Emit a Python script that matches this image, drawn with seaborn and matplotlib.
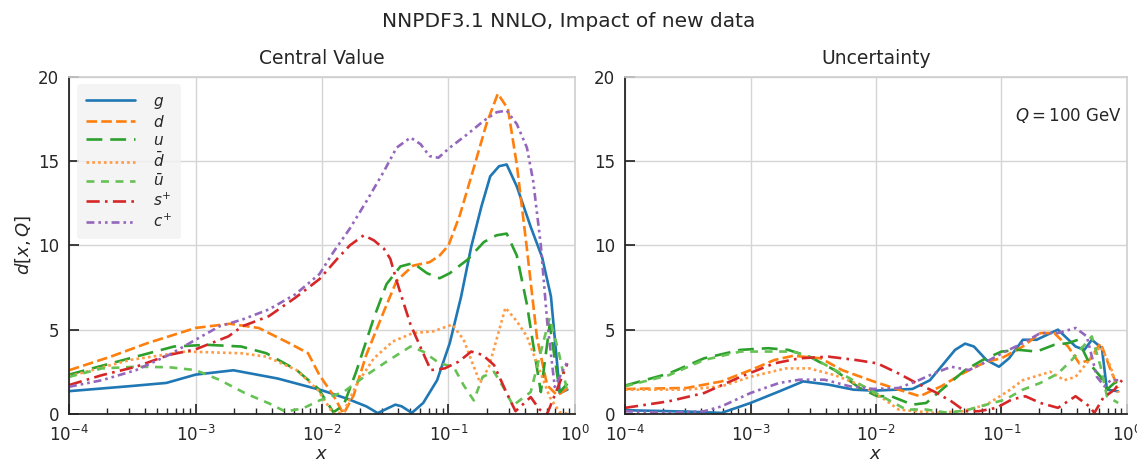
import numpy as np
import matplotlib
matplotlib.use("Agg")
import matplotlib.pyplot as plt
import seaborn as sns

# log10(x) positions and values, left panel (central value)
cv_g_lx = [-4, -3.5, -3.23, -3.0, -2.7, -2.35, -2.0, -1.8, -1.65, -1.56, -1.42, -1.37, -1.29, -1.2, -1.09, -0.99, -0.9,
           -0.82, -0.74, -0.67, -0.6, -0.54, -0.46, -0.35, -0.26, -0.19, -0.12, -0.06]
cv_g_y = [1.35, 1.66, 1.84, 2.33, 2.59, 2.1, 1.4, 0.9, 0.45, 0.05, 0.55, 0.45, 0.06, 0.65, 2.0, 4.2, 6.97,
          9.93, 12.3, 14.1, 14.7, 14.8, 13.5, 11.1, 9.3, 6.97, 1.24, 1.44]

cv_d_lx = [-4, -3.67, -3.38, -3.0, -2.73, -2.5, -2.26, -2.11, -2.02, -1.91, -1.83, -1.75, -1.65, -1.51, -1.41, -1.28,
           -1.15, -1.07, -1.0, -0.91, -0.8, -0.7, -0.61, -0.53, -0.46, -0.38, -0.3, -0.22, -0.14, -0.06]
cv_d_y = [2.59, 3.4, 4.2, 5.1, 5.35, 5.1, 4.2, 3.6, 2.3, 1.1, 0.0, 1.1, 3.5, 6.1, 7.9, 8.8,
          9.0, 9.4, 10.0, 11.8, 14.6, 17.2, 19.0, 18.1, 14.8, 9.8, 4.5, 1.7, 1.1, 1.5]

cv_u_lx = [-4, -3.52, -3.17, -2.91, -2.64, -2.44, -2.2, -2.03, -1.91, -1.83, -1.73, -1.59, -1.49, -1.38, -1.28,
           -1.17, -1.07, -0.99, -0.85, -0.72, -0.62, -0.54, -0.46, -0.38, -0.33, -0.27, -0.2, -0.12, -0.06]
cv_u_y = [2.33, 3.3, 4.0, 4.1, 4.0, 3.6, 2.6, 1.5, 0.1, 0.5, 2.5, 5.7, 7.7, 8.75, 8.95,
          8.35, 8.05, 8.35, 9.15, 10.2, 10.6, 10.7, 9.4, 6.5, 4.1, 1.3, 5.3, 1.3, 1.8]

cv_dbar_lx = [-4, -3.52, -3.08, -2.64, -2.44, -2.2, -2.03, -1.91, -1.83, -1.73, -1.59, -1.44, -1.28, -1.12, -0.97,
              -0.88, -0.82, -0.75, -0.68, -0.55, -0.46, -0.38, -0.3, -0.2, -0.12, -0.05]
cv_dbar_y = [2.23, 3.2, 3.7, 3.6, 3.4, 2.6, 1.4, 0.0, 0.1, 1.7, 3.3, 4.3, 4.8, 4.9, 5.3,
             4.4, 3.2, 1.84, 2.8, 6.3, 5.5, 4.6, 3.0, 1.0, 0.1, 0.0]

cv_ubar_lx = [-4, -3.74, -3.47, -3.21, -3.0, -2.81, -2.6, -2.42, -2.29, -2.15, -2.02, -1.83, -1.65, -1.49, -1.3,
              -1.2, -1.07, -0.96, -0.88, -0.8, -0.73, -0.64, -0.56, -0.49, -0.35, -0.27, -0.2, -0.13, -0.06]
cv_ubar_y = [2.2, 2.7, 2.8, 2.77, 2.6, 2.02, 1.2, 0.63, 0.14, 0.33, 0.8, 1.3, 2.3, 3.1, 4.0,
             3.7, 3.0, 2.8, 1.7, 0.8, 2.2, 2.5, 1.5, 0.5, 1.3, 3.7, 5.7, 3.7, 1.3]

cv_sp_lx = [-4, -3.74, -3.47, -3.21, -3.0, -2.74, -2.63, -2.42, -2.21, -2.02, -1.88, -1.78, -1.67, -1.59, -1.51,
            -1.46, -1.41, -1.36, -1.3, -1.2, -1.14, -1.03, -0.92, -0.82, -0.73, -0.64, -0.54, -0.47, -0.35, -0.28,
            -0.22, -0.15, -0.06]
cv_sp_y = [1.71, 2.3, 2.8, 3.5, 3.83, 4.6, 5.2, 5.8, 6.9, 8.0, 9.2, 10.0, 10.6, 10.3, 9.8,
           9.2, 7.9, 6.7, 5.3, 3.6, 2.6, 2.7, 3.1, 3.7, 3.5, 2.9, 1.24, 0.16, 1.0, 0.26,
           0.0, 1.3, 3.0]

cv_cp_lx = [-4, -3.74, -3.47, -3.21, -3.0, -2.81, -2.63, -2.42, -2.21, -2.02, -1.91, -1.78, -1.65, -1.51, -1.41,
            -1.3, -1.22, -1.15, -1.08, -0.99, -0.85, -0.72, -0.62, -0.54, -0.46, -0.38, -0.33, -0.27, -0.22,
            -0.16, -0.06]
cv_cp_y = [1.61, 2.0, 2.6, 3.5, 4.4, 5.2, 5.6, 6.2, 7.1, 8.3, 9.6, 11.0, 12.6, 14.4, 15.8,
           16.4, 16.0, 15.3, 15.2, 15.8, 16.6, 17.4, 17.9, 18.0, 17.2, 15.8, 13.8, 10.0, 5.5,
           1.6, 3.1]

# right panel (uncertainty)
un_g_lx = [-4, -3.51, -3.23, -3.0, -2.77, -2.58, -2.38, -2.18, -2.02, -1.71, -1.57, -1.37, -1.29, -1.22, -1.12,
           -1.02, -0.94, -0.83, -0.72, -0.55, -0.41, -0.34, -0.28, -0.2, -0.16, -0.07]
un_g_y = [0.22, 0.14, 0.06, 0.65, 1.34, 1.93, 1.74, 1.44, 1.38, 1.48, 2.0, 3.8, 4.17, 4.0, 3.2,
          2.8, 3.3, 4.4, 4.4, 5.0, 4.0, 3.8, 4.4, 3.9, 1.44, 1.34]

un_d_lx = [-4, -3.51, -3.23, -3.0, -2.81, -2.66, -2.44, -2.27, -2.02, -1.82, -1.65, -1.48, -1.31, -1.12, -1.0,
           -0.83, -0.69, -0.58, -0.47, -0.38, -0.3, -0.21, -0.13, -0.07]
un_d_y = [1.48, 1.54, 1.93, 2.6, 3.2, 3.45, 3.3, 2.6, 1.93, 1.44, 1.05, 1.64, 2.4, 3.1, 3.3,
          4.0, 4.8, 4.8, 4.0, 3.0, 3.2, 4.2, 2.6, 1.54]

un_u_lx = [-4, -3.65, -3.37, -3.08, -2.86, -2.7, -2.53, -2.33, -2.13, -1.99, -1.88, -1.71, -1.6, -1.46, -1.29,
           -1.15, -1.0, -0.86, -0.72, -0.58, -0.47, -0.39, -0.3, -0.21, -0.16, -0.1, -0.05]
un_u_y = [1.68, 2.4, 3.3, 3.8, 3.9, 3.8, 3.4, 2.6, 1.54, 1.05, 1.05, 0.55, 0.65, 1.54, 2.6,
          3.2, 3.7, 3.8, 3.7, 4.1, 4.2, 4.4, 3.0, 2.2, 1.44, 1.84, 2.0]

un_dbar_lx = [-4, -3.51, -3.23, -3.0, -2.72, -2.53, -2.33, -2.1, -1.93, -1.82, -1.54, -1.31, -1.12, -0.95, -0.83,
              -0.61, -0.5, -0.41, -0.3, -0.21, -0.13, -0.07]
un_dbar_y = [1.44, 1.44, 1.64, 2.2, 2.7, 2.7, 2.3, 1.64, 0.85, 0.26, 0.06, 0.16, 0.55, 1.34, 2.0,
             2.5, 2.0, 2.2, 3.2, 4.0, 2.8, 1.24]

un_ubar_lx = [-4, -3.65, -3.37, -3.08, -2.86, -2.66, -2.5, -2.3, -2.1, -1.93, -1.76, -1.6, -1.42, -1.26, -1.12,
              -0.97, -0.83, -0.69, -0.55, -0.44, -0.35, -0.28, -0.21, -0.16, -0.07]
un_ubar_y = [1.64, 2.3, 3.2, 3.7, 3.7, 3.7, 3.3, 2.5, 1.64, 0.95, 0.26, 0.26, 0.06, 0.26, 0.55,
             0.85, 1.44, 1.84, 2.4, 3.2, 4.0, 4.6, 2.8, 1.05, 0.65]

un_sp_lx = [-4, -3.65, -3.37, -3.08, -2.81, -2.61, -2.38, -2.16, -1.99, -1.82, -1.68, -1.54, -1.4, -1.29, -1.18,
            -1.04, -0.92, -0.81, -0.69, -0.55, -0.41, -0.3, -0.26, -0.19, -0.1, -0.04]
un_sp_y = [0.36, 0.75, 1.24, 2.2, 3.0, 3.3, 3.4, 3.2, 3.0, 2.4, 1.84, 1.34, 0.75, 0.16, 0.16,
           0.36, 0.85, 1.05, 0.65, 0.36, 1.05, 0.45, 0.06, 0.95, 1.44, 2.0]

un_cp_lx = [-4, -3.65, -3.37, -3.23, -3.0, -2.77, -2.61, -2.41, -2.21, -2.02, -1.82, -1.68, -1.54, -1.4, -1.26,
            -1.12, -0.97, -0.83, -0.69, -0.55, -0.41, -0.32, -0.24, -0.18, -0.13, -0.07]
un_cp_y = [0.16, 0.06, 0.16, 0.45, 1.24, 1.84, 2.03, 2.03, 1.64, 1.48, 1.54, 1.93, 2.4, 2.8, 2.6,
           3.1, 3.7, 4.2, 4.8, 4.8, 5.1, 4.6, 2.2, 1.64, 2.0, 2.0]

labels = ["$g$", "$d$", "$u$", r"$\bar{d}$", r"$\bar{u}$", "$s^{+}$", "$c^{+}$"]
colors = ["#1f77b4", "#ff7f0e", "#2ca02c", "#ff9b45", "#66c254", "#d62728", "#9467bd"]
styles = ["-", (0, (4, 1.6)), (0, (6, 3)), (0, (1, 1.2)), (0, (3, 2.5)),
          (0, (5, 2, 1, 2)), (0, (3, 1.5, 1, 1.5, 1, 1.5))]

cv_series = [(cv_g_lx, cv_g_y), (cv_d_lx, cv_d_y), (cv_u_lx, cv_u_y), (cv_dbar_lx, cv_dbar_y),
             (cv_ubar_lx, cv_ubar_y), (cv_sp_lx, cv_sp_y), (cv_cp_lx, cv_cp_y)]
un_series = [(un_g_lx, un_g_y), (un_d_lx, un_d_y), (un_u_lx, un_u_y), (un_dbar_lx, un_dbar_y),
             (un_ubar_lx, un_ubar_y), (un_sp_lx, un_sp_y), (un_cp_lx, un_cp_y)]

sns.set_theme(style="whitegrid", rc={
    "axes.edgecolor": "#d0d0d0",
    "grid.color": "#d5d5d5",
    "xtick.bottom": True, "ytick.left": True,
    "xtick.direction": "in", "ytick.direction": "in",
    "xtick.major.size": 7, "ytick.major.size": 7,
    "xtick.minor.size": 4, "xtick.minor.visible": True,
    "xtick.color": "#262626", "ytick.color": "#262626",
})
plt.rcParams["font.family"] = ["DejaVu Sans"]
plt.rcParams["mathtext.fontset"] = "dejavusans"

fig = plt.figure(figsize=(11.37, 4.63), dpi=100)
ax1 = fig.add_axes([0.0607, 0.106, 0.445, 0.728])
ax2 = fig.add_axes([0.5497, 0.106, 0.4415, 0.728])

for ax, series, title in [(ax1, cv_series, "Central Value"), (ax2, un_series, "Uncertainty")]:
    for (lx, yv), lab, col, ls in zip(series, labels, colors, styles):
        sns.lineplot(x=10 ** np.array(lx), y=yv, ax=ax, color=col, linestyle=ls, lw=1.9,
                     label=lab, sort=False, estimator=None, errorbar=None)
    ax.set_xscale("log")
    ax.set_xlim(1e-4, 1)
    ax.set_ylim(0, 20)
    ax.set_yticks([0, 5, 10, 15, 20])
    ax.grid(True, which="major")
    ax.grid(False, which="minor")
    ax.tick_params(axis="y", which="major", labelsize=12, pad=7)
    ax.tick_params(axis="x", which="major", labelsize=12, pad=8)
    ax.tick_params(axis="x", which="minor", color="#262626")
    for side in ["left", "bottom"]:
        ax.spines[side].set_color("#262626")
        ax.spines[side].set_linewidth(1.3)
    ax.set_title(title, fontsize=13.5, pad=9)
    ax.set_xlabel("$x$", fontsize=13, labelpad=0)

ax1.set_ylabel("$d[x,Q]$", fontsize=13)
ax2.set_ylabel("")
ax2.get_legend().remove()
leg = ax1.legend(loc="upper left", frameon=True, fontsize=11, handlelength=3.2, handletextpad=1.2,
                 labelspacing=0.2, borderaxespad=0.5, borderpad=0.6)
leg.get_frame().set_facecolor("#f2f2f2")
leg.get_frame().set_edgecolor("none")

ax2.text(0.99, 0.885, "$Q = 100$ GeV", transform=ax2.transAxes, ha="right", va="center", fontsize=12)
fig.suptitle("NNPDF3.1 NNLO, Impact of new data", fontsize=14.5, y=0.975)

fig.savefig("out.png", dpi=100)
